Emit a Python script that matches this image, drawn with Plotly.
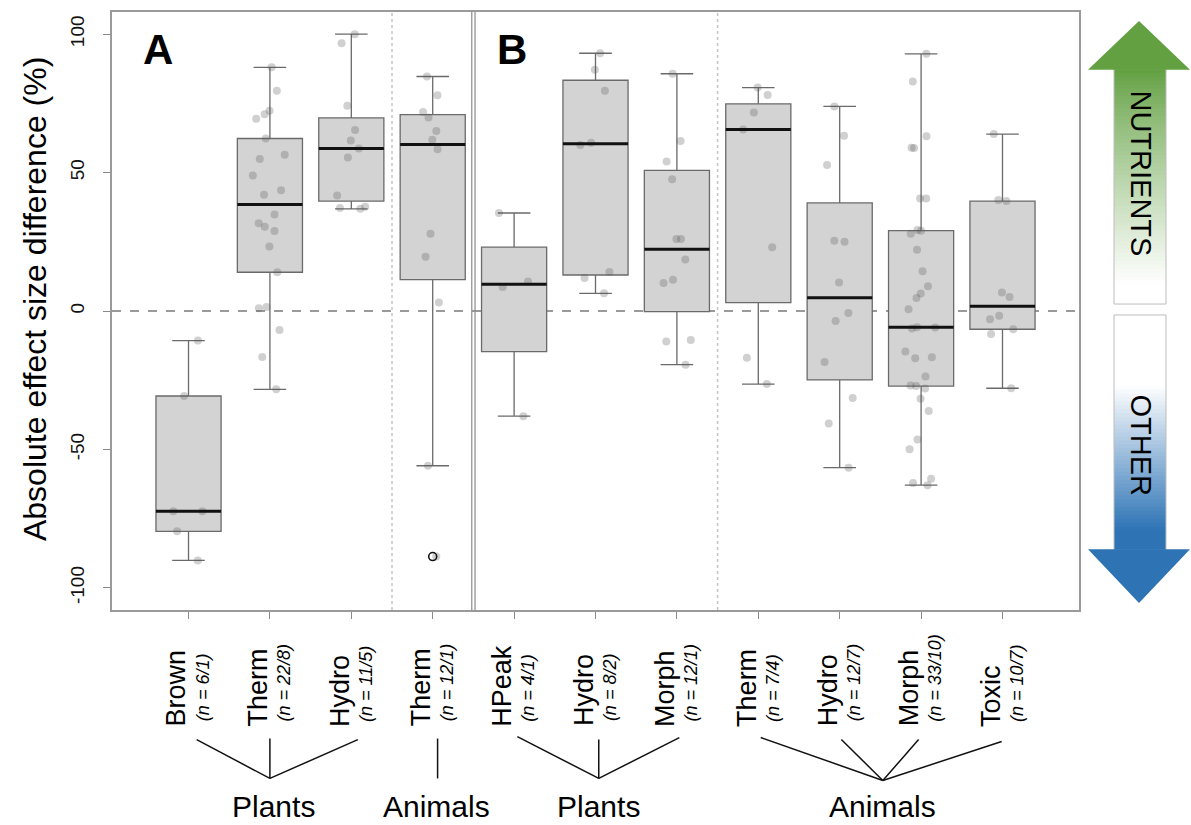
import math
import plotly.graph_objects as go

# ---------------- data ----------------
categories = ["Brown", "Therm", "Hydro", "Therm", "HPeak", "Hydro", "Morph",
              "Therm", "Hydro", "Morph", "Toxic"]
n_labels = ["(n = 6/1)", "(n = 22/8)", "(n = 11/5)", "(n = 12/1)", "(n = 4/1)",
            "(n = 8/2)", "(n = 12/1)", "(n = 7/4)", "(n = 12/7)", "(n = 33/10)",
            "(n = 10/7)"]

plants_brown_a = [-10.7, -30.7, -72.3, -72.3, -79.6, -90.1]
plants_therm_a = [88.0, 79.6, 72.3, 71.1, 69.4, 62.3, 56.4, 54.9, 48.9, 43.6, 42.0,
                  34.9, 31.7, 30.4, 28.9, 23.3, 14.0, 1.4, 1.0, -6.9, -16.6, -28.3]
plants_hydro_a = [100.0, 96.7, 74.1, 65.4, 61.6, 58.7, 55.4, 41.7, 37.7, 37.2, 36.9]
animals_therm_a = [84.7, 77.9, 71.9, 69.9, 65.0, 61.9, 58.4, 27.9, 19.6, 3.1, -55.9, -88.7]
plants_hpeak_b = [35.4, 10.7, 8.7, -38.0]
plants_hydro_b = [93.1, 87.1, 79.6, 60.8, 60.0, 14.1, 11.9, 6.4]
plants_morph_b = [85.7, 61.4, 54.0, 47.6, 26.0, 26.0, 18.6, 11.3, 10.1, -10.5, -11.0, -19.4]
animals_therm_b = [80.7, 78.0, 71.7, 65.6, 23.0, -16.9, -26.4]
animals_hydro_b = [73.9, 63.3, 52.7, 25.4, 25.0, 10.3, -0.7, -3.6, -18.4, -31.4, -40.6, -56.6]
animals_morph_b = [92.9, 82.9, 63.1, 59.0, 58.9, 40.6, 40.6, 29.3, 29.0, 27.9, 22.1, 14.4,
                   8.9, 6.3, 4.7, 0.6, -5.9, -6.0, -6.3, -14.6, -16.7, -17.1, -23.7,
                   -26.9, -27.1, -28.0, -31.7, -36.1, -46.4, -49.9, -60.6, -62.1, -62.9]
animals_toxic_b = [63.9, 40.1, 39.7, 6.7, 5.1, -1.7, -3.0, -6.6, -8.3, -27.9]

series = [plants_brown_a, plants_therm_a, plants_hydro_a, animals_therm_a,
          plants_hpeak_b, plants_hydro_b, plants_morph_b, animals_therm_b,
          animals_hydro_b, animals_morph_b, animals_toxic_b]

group_labels = ["Plants", "Animals", "Plants", "Animals"]

# ---------------- helpers ----------------
FONT = "Liberation Sans, Arial, sans-serif"


def fivenum(v):
    s = sorted(v)
    n = len(s)
    n4 = math.floor((n + 3) / 2) / 2
    d = [1, n4, (n + 1) / 2, n + 1 - n4, n]
    return [0.5 * (s[math.floor(di) - 1] + s[math.ceil(di) - 1]) for di in d]


def box_stats(v):
    mn, q1, med, q3, mx = fivenum(v)
    iqr = q3 - q1
    lo, hi = q1 - 1.5 * iqr, q3 + 1.5 * iqr
    inside = [x for x in v if lo <= x <= hi]
    out = [x for x in v if x < lo or x > hi]
    return q1, med, q3, min(inside), max(inside), out


fig = go.Figure()
positions = list(range(1, len(categories) + 1))
BOXW = 0.8

med_x, med_y, out_x, out_y = [], [], [], []
for pos, vals in zip(positions, series):
    q1, med, q3, lf, uf, out = box_stats(vals)
    fig.add_trace(go.Box(
        x=[pos], q1=[q1], median=[med], q3=[q3], lowerfence=[lf], upperfence=[uf],
        width=BOXW, whiskerwidth=0.5, fillcolor="#d3d3d3",
        line=dict(color="#6a6a6a", width=1.3), boxpoints=False,
        showlegend=False, hoverinfo="skip"))
    med_x += [pos - BOXW / 2, pos + BOXW / 2, None]
    med_y += [med, med, None]
    for o in out:
        out_x.append(pos)
        out_y.append(o)

# thick median lines
fig.add_trace(go.Scatter(x=med_x, y=med_y, mode="lines",
                         line=dict(color="#111111", width=3),
                         showlegend=False, hoverinfo="skip"))

# jittered raw points (invisible boxes, points only)
for pos, vals in zip(positions, series):
    fig.add_trace(go.Box(
        x=[pos] * len(vals), y=vals, width=BOXW, boxpoints="all", jitter=0.55,
        pointpos=0, fillcolor="rgba(0,0,0,0)", line=dict(color="rgba(0,0,0,0)", width=0),
        marker=dict(color="rgba(85,85,85,0.28)", size=8),
        showlegend=False, hoverinfo="skip"))

# outliers
fig.add_trace(go.Scatter(x=out_x, y=out_y, mode="markers",
                         marker=dict(symbol="circle-open", color="#111111", size=8,
                                     line=dict(width=1.6)),
                         showlegend=False, hoverinfo="skip"))

# ---------------- layout geometry ----------------
L, R, T, B = 112, 1079, 10, 610
W, H = 1191, 825


def px(xp):
    return (xp - L) / (R - L)


def py(yp):
    return (B - yp) / (B - T)


shapes = []
# zero dashed line
shapes.append(dict(type="line", xref="paper", yref="y", x0=0, x1=1, y0=0, y1=0,
                   line=dict(color="#9a9a9a", width=2, dash="dash"), layer="below"))
# dotted separators
for xv in (3.5, 7.5):
    shapes.append(dict(type="line", xref="x", yref="paper", x0=xv, x1=xv, y0=0, y1=1,
                       line=dict(color="#c4c4c4", width=1.5, dash="dot"), layer="below"))
# double panel separator
for xv in (4.48, 4.52):
    shapes.append(dict(type="line", xref="x", yref="paper", x0=xv, x1=xv, y0=0, y1=1,
                       line=dict(color="#8a8a8a", width=1.2)))

# bracket lines below axis
def seg(x0, y0p, x1, y1p):
    shapes.append(dict(type="line", xref="x", yref="paper", x0=x0, x1=x1,
                       y0=py(y0p), y1=py(y1p), line=dict(color="#111111", width=1.5)))

seg(1.1, 740, 2.0, 779); seg(2.0, 739, 2.0, 779); seg(3.08, 740, 2.0, 779)
seg(4.06, 739, 4.06, 779)
seg(5.04, 737, 6.04, 779); seg(6.04, 740, 6.04, 779); seg(7.03, 738, 6.04, 779)
seg(8.03, 738, 9.53, 781); seg(9.02, 740, 9.53, 781); seg(9.97, 740, 9.53, 781)
seg(10.99, 742, 9.53, 781)

# ---------------- arrows on the right ----------------
def mix(c1, c2, t):
    return "rgb(%d,%d,%d)" % tuple(round(a + (b - a) * t) for a, b in zip(c1, c2))

GREEN = (98, 160, 66)
BLUE = (46, 116, 181)
WHITE = (255, 255, 255)
sx0, sx1 = 1114, 1166

# up arrow shaft gradient
top, bot = 67, 303
nstr = 60
for i in range(nstr):
    y0 = top + (bot - top) * i / nstr
    y1 = top + (bot - top) * (i + 1) / nstr + 0.8
    ymid = (y0 + y1) / 2
    t = min(1.0, max(0.0, (ymid - 70) / (285 - 70)))
    t = t ** 0.85
    shapes.append(dict(type="rect", xref="paper", yref="paper", x0=px(sx0), x1=px(sx1),
                       y0=py(min(y1, bot)), y1=py(y0), fillcolor=mix(GREEN, WHITE, t),
                       line=dict(width=0)))
shapes.append(dict(type="rect", xref="paper", yref="paper", x0=px(sx0), x1=px(sx1),
                   y0=py(bot), y1=py(top), line=dict(color="#bdbdbd", width=1)))
shapes.append(dict(type="path", xref="paper", yref="paper",
                   path="M %f,%f L %f,%f L %f,%f Z" % (px(1088), py(68), px(1139), py(19),
                                                       px(1190), py(68)),
                   fillcolor="rgb(%d,%d,%d)" % GREEN, line=dict(width=0)))

# down arrow shaft gradient
top, bot = 314, 550
for i in range(nstr):
    y0 = top + (bot - top) * i / nstr
    y1 = top + (bot - top) * (i + 1) / nstr + 0.8
    ymid = (y0 + y1) / 2
    t = min(1.0, max(0.0, (ymid - 385) / (530 - 385)))
    shapes.append(dict(type="rect", xref="paper", yref="paper", x0=px(sx0), x1=px(sx1),
                       y0=py(min(y1, bot)), y1=py(y0), fillcolor=mix(WHITE, BLUE, t),
                       line=dict(width=0)))
shapes.append(dict(type="rect", xref="paper", yref="paper", x0=px(sx0), x1=px(sx1),
                   y0=py(bot), y1=py(top), line=dict(color="#bdbdbd", width=1)))
shapes.append(dict(type="path", xref="paper", yref="paper",
                   path="M %f,%f L %f,%f L %f,%f Z" % (px(1088), py(549), px(1139), py(603),
                                                       px(1190), py(549)),
                   fillcolor="rgb(%d,%d,%d)" % BLUE, line=dict(width=0)))

# ---------------- annotations ----------------
ann = []
ann.append(dict(text="<b>A</b>", x=0.62, y=94.5, xref="x", yref="y", showarrow=False,
                xanchor="center", yanchor="middle",
                font=dict(size=42, color="#000", family=FONT)))
ann.append(dict(text="<b>B</b>", x=4.97, y=94.5, xref="x", yref="y", showarrow=False,
                xanchor="center", yanchor="middle",
                font=dict(size=42, color="#000", family=FONT)))
for pos, cat, nl in zip(positions, categories, n_labels):
    ann.append(dict(text=cat, x=pos, xshift=-12, xref="x", yref="paper", y=py(729),
                    yanchor="bottom", xanchor="center", textangle=-90, showarrow=False,
                    font=dict(size=27, color="#000", family=FONT)))
    ann.append(dict(text="<i>" + nl + "</i>", x=pos, xshift=14, xref="x", yref="paper",
                    y=py(724), yanchor="bottom", xanchor="center", textangle=-90,
                    showarrow=False, font=dict(size=18, color="#000", family=FONT)))
for gx, gl in zip([2.05, 4.05, 6.04, 9.53], group_labels):
    ann.append(dict(text=gl, x=gx, xref="x", yref="paper", y=py(807), yanchor="middle",
                    xanchor="center",
                    showarrow=False, font=dict(size=30, color="#000", family=FONT)))
ann.append(dict(text="Absolute effect size difference (%)", x=px(35), y=py(298),
                xref="paper", yref="paper", textangle=-90, showarrow=False,
                xanchor="center", yanchor="middle",
                font=dict(size=32, color="#000", family=FONT)))
ann.append(dict(text="NUTRIENTS", x=px(1141), y=py(172), xref="paper", yref="paper",
                textangle=90, showarrow=False, xanchor="center", yanchor="middle",
                font=dict(size=29, color="#000", family=FONT)))
ann.append(dict(text="OTHER", x=px(1141), y=py(445), xref="paper", yref="paper",
                textangle=90, showarrow=False, xanchor="center", yanchor="middle",
                font=dict(size=29, color="#000", family=FONT)))

fig.update_layout(
    width=W, height=H,
    margin=dict(l=L, r=W - R, t=T, b=H - B, pad=0),
    paper_bgcolor="white", plot_bgcolor="white",
    boxmode="overlay", showlegend=False,
    shapes=shapes, annotations=ann,
    xaxis=dict(range=[0.06, 11.94], tickvals=positions, showticklabels=False,
               ticks="outside", ticklen=7, tickcolor="#8a8a8a", tickwidth=1.3,
               showline=True, mirror=True, linecolor="#9a9a9a", linewidth=1.5,
               showgrid=False, zeroline=False, fixedrange=True),
    yaxis=dict(range=[-108, 108], tickvals=[-100, -50, 0, 50, 100],
               ticktext=["-100", "-50", "0", "50", "100"], tickangle=-90,
               tickfont=dict(size=19, color="#111", family=FONT),
               ticks="outside", ticklen=7, tickcolor="#8a8a8a", tickwidth=1.3,
               ticklabelstandoff=12,
               showline=True, mirror=True, linecolor="#9a9a9a", linewidth=1.5,
               showgrid=False, zeroline=False, fixedrange=True),
)

fig.write_html("out.html", config={"displayModeBar": False},
               post_script="document.body.style.margin='0px';"
                           "document.body.style.overflow='hidden';")
